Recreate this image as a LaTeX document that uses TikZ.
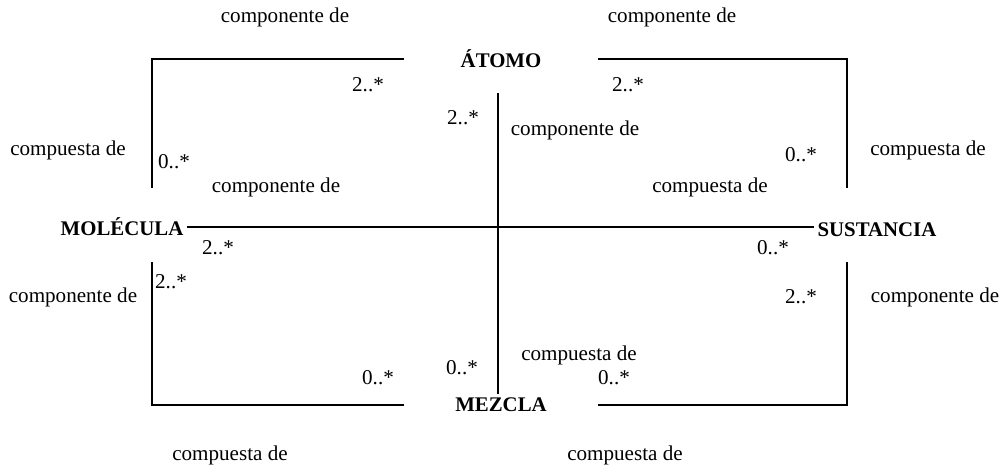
\documentclass[tikz,border=0pt]{standalone}
\usepackage{fontspec}
\setmainfont{Liberation Serif}
\usepackage{tikz}

\tikzset{
  clase/.style={font=\fontsize{14.8}{17}\selectfont\bfseries, inner sep=2pt},
  rol/.style={font=\fontsize{15}{17}\selectfont, inner sep=1pt},
}

\begin{document}
\begin{tikzpicture}[x=0.025cm, y=-0.025cm, line width=1.2pt]

        \useasboundingbox (0,0) rectangle (1003,473);

        % Clases
        \node[clase, minimum width=4.8cm] at (501,59) (atomo) {ÁTOMO};
        \node[clase] at (122,227) (molecula) {MOLÉCULA};
        \node[clase] at (877,230) (sustancia) {SUSTANCIA};
        \node[clase, minimum width=4.8cm] at (501,405) (mezcla) {MEZCLA};

        % Enden der Linien
        \coordinate (molN) at (152,188);
        \coordinate (molS) at (152,262);
        \coordinate (susN) at (847,188);
        \coordinate (susS) at (847,262);
        \coordinate (atomoS) at (498,93);
        \coordinate (mezclaN) at (498,394);

        % Linien
        \draw (atomo.west) -| (molN);
        \draw (atomo.east) -| (susN);
        \draw (mezcla.west) -| (molS);
        \draw (mezcla.east) -| (susS);
        \draw (molecula.east) -- (sustancia.west |- molecula.east);
        \draw (atomoS) -- (mezclaN);

        % Rollen oben
        \node[rol] at (285,17) (r1) {componente de};
        \node[rol] at (672,17) (r2) {componente de};
        \node[rol] at (368,85) (m1) {2..*};
        \node[rol] at (628,85) (m2) {2..*};
        \node[rol] at (463,118) (m3) {2..*};
        \node[rol] at (575,130) (r3) {componente de};
        \node[rol] at (68,150) (r4) {compuesta de};
        \node[rol] at (928,150) (r5) {compuesta de};
        \node[rol] at (174,162) (m4) {0..*};
        \node[rol] at (801,155) (m5) {0..*};
        \node[rol] at (276,187) (r6) {componente de};
        \node[rol] at (710,187) (r7) {compuesta de};

        % Rollen unten
        \node[rol] at (218,248) (m6) {2..*};
        \node[rol] at (773,248) (m7) {0..*};
        \node[rol] at (73,297) (r8) {componente de};
        \node[rol] at (171,282) (m8) {2..*};
        \node[rol] at (801,297) (m9) {2..*};
        \node[rol] at (935,297) (r9) {componente de};
        \node[rol] at (579,355) (r10) {compuesta de};
        \node[rol] at (462,368) (m10) {0..*};
        \node[rol] at (378,378) (m11) {0..*};
        \node[rol] at (614,378) (m12) {0..*};
        \node[rol] at (230,455) (r11) {compuesta de};
        \node[rol] at (625,455) (r12) {compuesta de};

    \end{tikzpicture}
\end{document}
